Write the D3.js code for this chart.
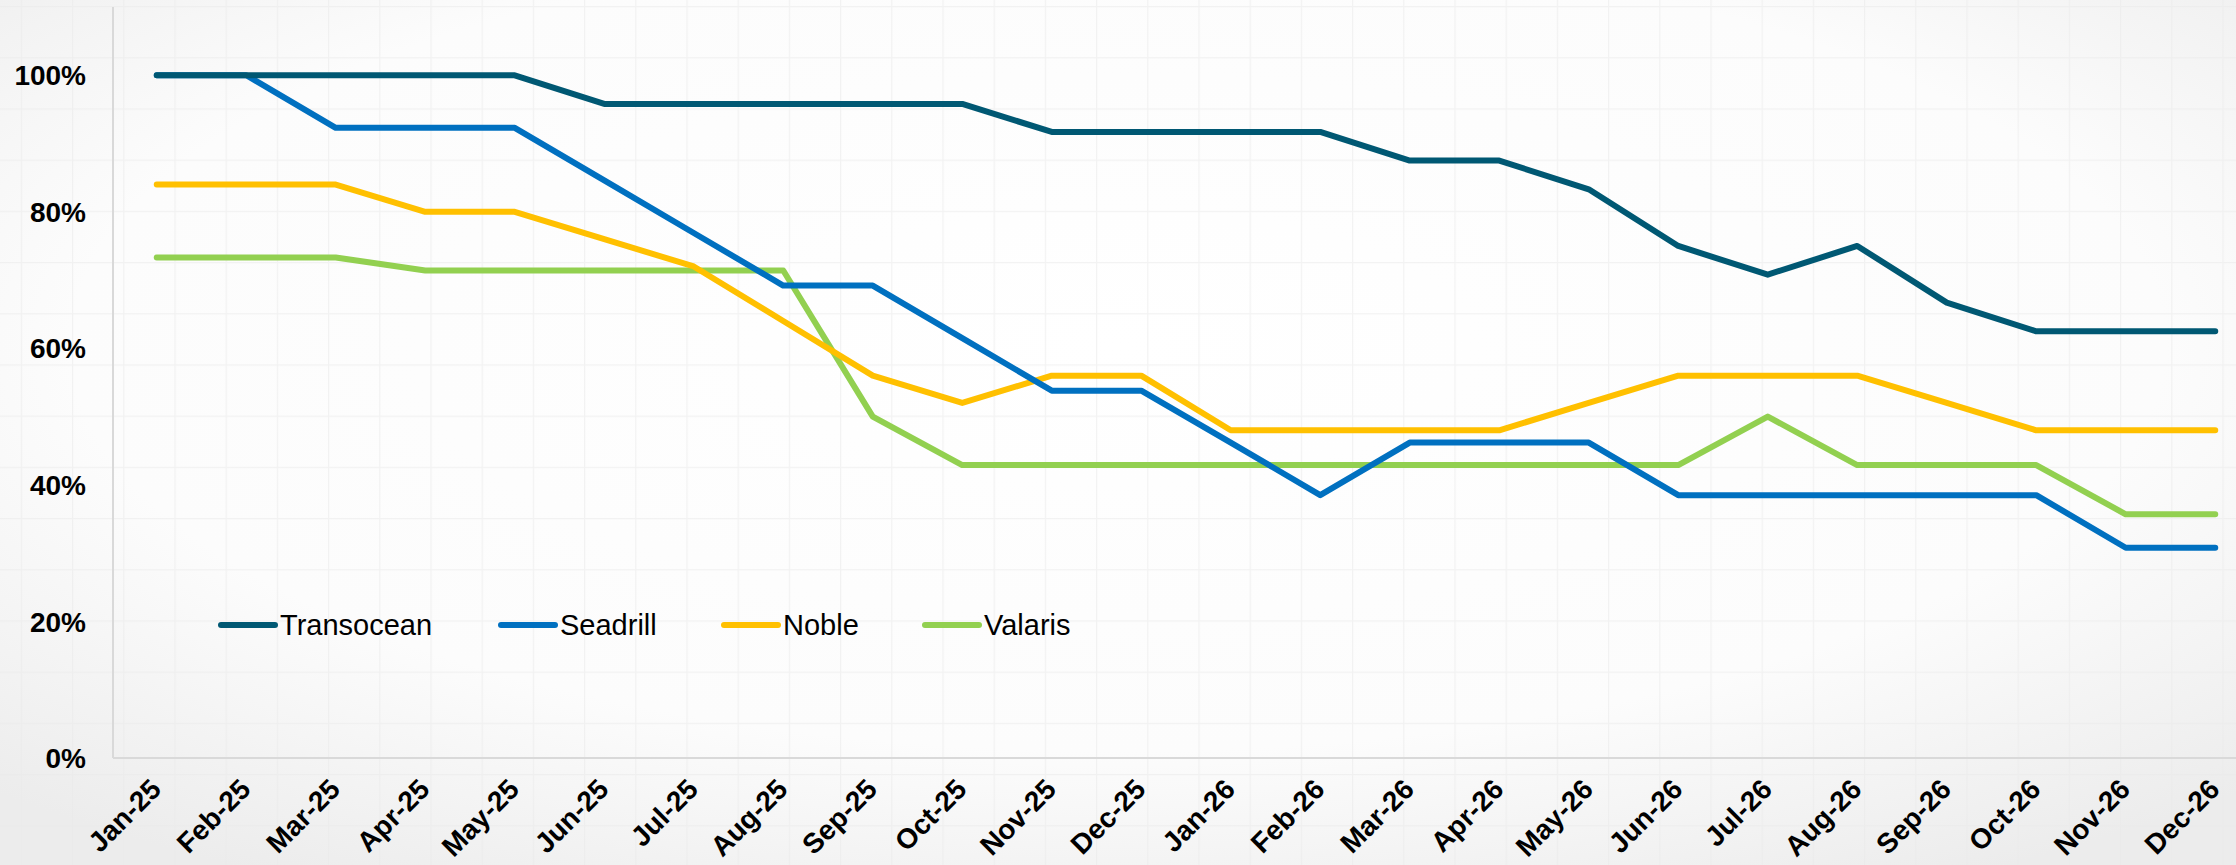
<!DOCTYPE html>
<html>
<head>
<meta charset="utf-8">
<script src="https://cdn.jsdelivr.net/npm/d3@7"></script>
<style>
  html, body { margin: 0; padding: 0; background: #ffffff; }
  svg { display: block; }
</style>
</head>
<body>
<div id="chart"></div>
<script>
var months = [
  "Jan-25", "Feb-25", "Mar-25", "Apr-25", "May-25", "Jun-25",
  "Jul-25", "Aug-25", "Sep-25", "Oct-25", "Nov-25", "Dec-25",
  "Jan-26", "Feb-26", "Mar-26", "Apr-26", "May-26", "Jun-26",
  "Jul-26", "Aug-26", "Sep-26", "Oct-26", "Nov-26", "Dec-26"
];

var transocean = [1.0, 1.0, 1.0, 1.0, 1.0, 0.958, 0.958, 0.958, 0.958, 0.958, 0.917, 0.917,
  0.917, 0.917, 0.875, 0.875, 0.833, 0.75, 0.708, 0.75, 0.667, 0.625, 0.625, 0.625];
var seadrill = [1.0, 1.0, 0.923, 0.923, 0.923, 0.846, 0.769, 0.692, 0.692, 0.615, 0.538, 0.538,
  0.462, 0.385, 0.462, 0.462, 0.462, 0.385, 0.385, 0.385, 0.385, 0.385, 0.308, 0.308];
var noble = [0.84, 0.84, 0.84, 0.8, 0.8, 0.76, 0.72, 0.64, 0.56, 0.52, 0.56, 0.56,
  0.48, 0.48, 0.48, 0.48, 0.52, 0.56, 0.56, 0.56, 0.52, 0.48, 0.48, 0.48];
var valaris = [0.733, 0.733, 0.733, 0.714, 0.714, 0.714, 0.714, 0.714, 0.5, 0.429, 0.429, 0.429,
  0.429, 0.429, 0.429, 0.429, 0.429, 0.429, 0.5, 0.429, 0.429, 0.429, 0.357, 0.357];

var seriesNames = ["Transocean", "Seadrill", "Noble", "Valaris"];
var seriesColors = ["#005873", "#0070c0", "#ffc000", "#92d050"];
var yTicks = [0, 0.2, 0.4, 0.6, 0.8, 1.0];

var width = 2236, height = 865;
var plot = { left: 113, right: 2260, top: 7, bottom: 758 };

var svg = d3.select("#chart")
  .append("svg")
  .attr("width", width)
  .attr("height", height);

// background: soft gradient with faint squared texture
var defs = svg.append("defs");
var grad = defs.append("radialGradient")
  .attr("id", "bg")
  .attr("cx", "50%").attr("cy", "40%").attr("r", "72%");
grad.append("stop").attr("offset", "0%").attr("stop-color", "#ffffff");
grad.append("stop").attr("offset", "65%").attr("stop-color", "#fcfcfc");
grad.append("stop").attr("offset", "100%").attr("stop-color", "#ececec");

var pat = defs.append("pattern")
  .attr("id", "grid")
  .attr("patternUnits", "userSpaceOnUse")
  .attr("x", 20.8).attr("y", 6)
  .attr("width", 51.2).attr("height", 51.2);
pat.append("path")
  .attr("d", "M0,0 H51.2 M0,0 V51.2")
  .attr("stroke", "#e9e9e9")
  .attr("stroke-opacity", 0.55)
  .attr("stroke-width", 2.5)
  .attr("fill", "none");

svg.append("rect").attr("width", width).attr("height", height).attr("fill", "url(#bg)");
svg.append("rect").attr("width", width).attr("height", height).attr("fill", "url(#grid)");

var x = d3.scalePoint()
  .domain(months)
  .range([plot.left - 1, plot.right])
  .padding(0.5);

var y = d3.scaleLinear()
  .domain([0, 1.1])
  .range([plot.bottom, plot.top]);

// axis lines
svg.append("line")
  .attr("x1", plot.left).attr("x2", plot.left)
  .attr("y1", plot.top).attr("y2", plot.bottom)
  .style("stroke", "#d9d9d9").style("stroke-width", "2px");
svg.append("line")
  .attr("x1", plot.left).attr("x2", width)
  .attr("y1", plot.bottom).attr("y2", plot.bottom)
  .style("stroke", "#d9d9d9").style("stroke-width", "2px");

// y labels
svg.selectAll(".ylab")
  .data(yTicks)
  .enter()
  .append("text")
  .attr("class", "ylab")
  .attr("x", 86)
  .attr("y", function (d) { return y(d); })
  .attr("dy", "0.36em")
  .attr("text-anchor", "end")
  .style("font-family", "'Liberation Sans', Arial, sans-serif")
  .style("font-weight", "bold")
  .style("font-size", "28px")
  .attr("fill", "#000")
  .text(d3.format(".0%"));

// x labels, rotated
svg.selectAll(".xlab")
  .data(months)
  .enter()
  .append("text")
  .attr("class", "xlab")
  .attr("text-anchor", "end")
  .attr("transform", function (d) {
    return "translate(" + (x(d) + 6) + "," + 791 + ") rotate(-45)";
  })
  .style("font-family", "'Liberation Sans', Arial, sans-serif")
  .style("font-weight", "bold")
  .style("font-size", "28px")
  .attr("fill", "#000")
  .text(function (d) { return d; });

// series lines
var allSeries = [transocean, seadrill, noble, valaris];
var line = d3.line()
  .x(function (d, i) { return x(months[i]); })
  .y(function (d) { return y(d); });

// draw back to front so Transocean sits on top like the original
[3, 2, 1, 0].forEach(function (k) {
  svg.append("path")
    .datum(allSeries[k])
    .attr("d", line)
    .attr("fill", "none")
    .style("stroke", seriesColors[k])
    .style("stroke-width", "6px")
    .style("stroke-linecap", "round")
    .style("stroke-linejoin", "round");
});

// legend
var legendX = [221, 501, 724, 925];
var legend = svg.append("g").attr("class", "legend");
seriesNames.forEach(function (name, i) {
  legend.append("line")
    .attr("x1", legendX[i]).attr("x2", legendX[i] + 54)
    .attr("y1", 625).attr("y2", 625)
    .style("stroke", seriesColors[i])
    .style("stroke-width", "6px")
    .style("stroke-linecap", "round");
  legend.append("text")
    .attr("x", legendX[i] + 59)
    .attr("y", 625)
    .attr("dy", "0.36em")
    .style("font-family", "'Liberation Sans', Arial, sans-serif")
    .style("font-size", "29px")
    .attr("fill", "#000")
    .text(name);
});
</script>
</body>
</html>
